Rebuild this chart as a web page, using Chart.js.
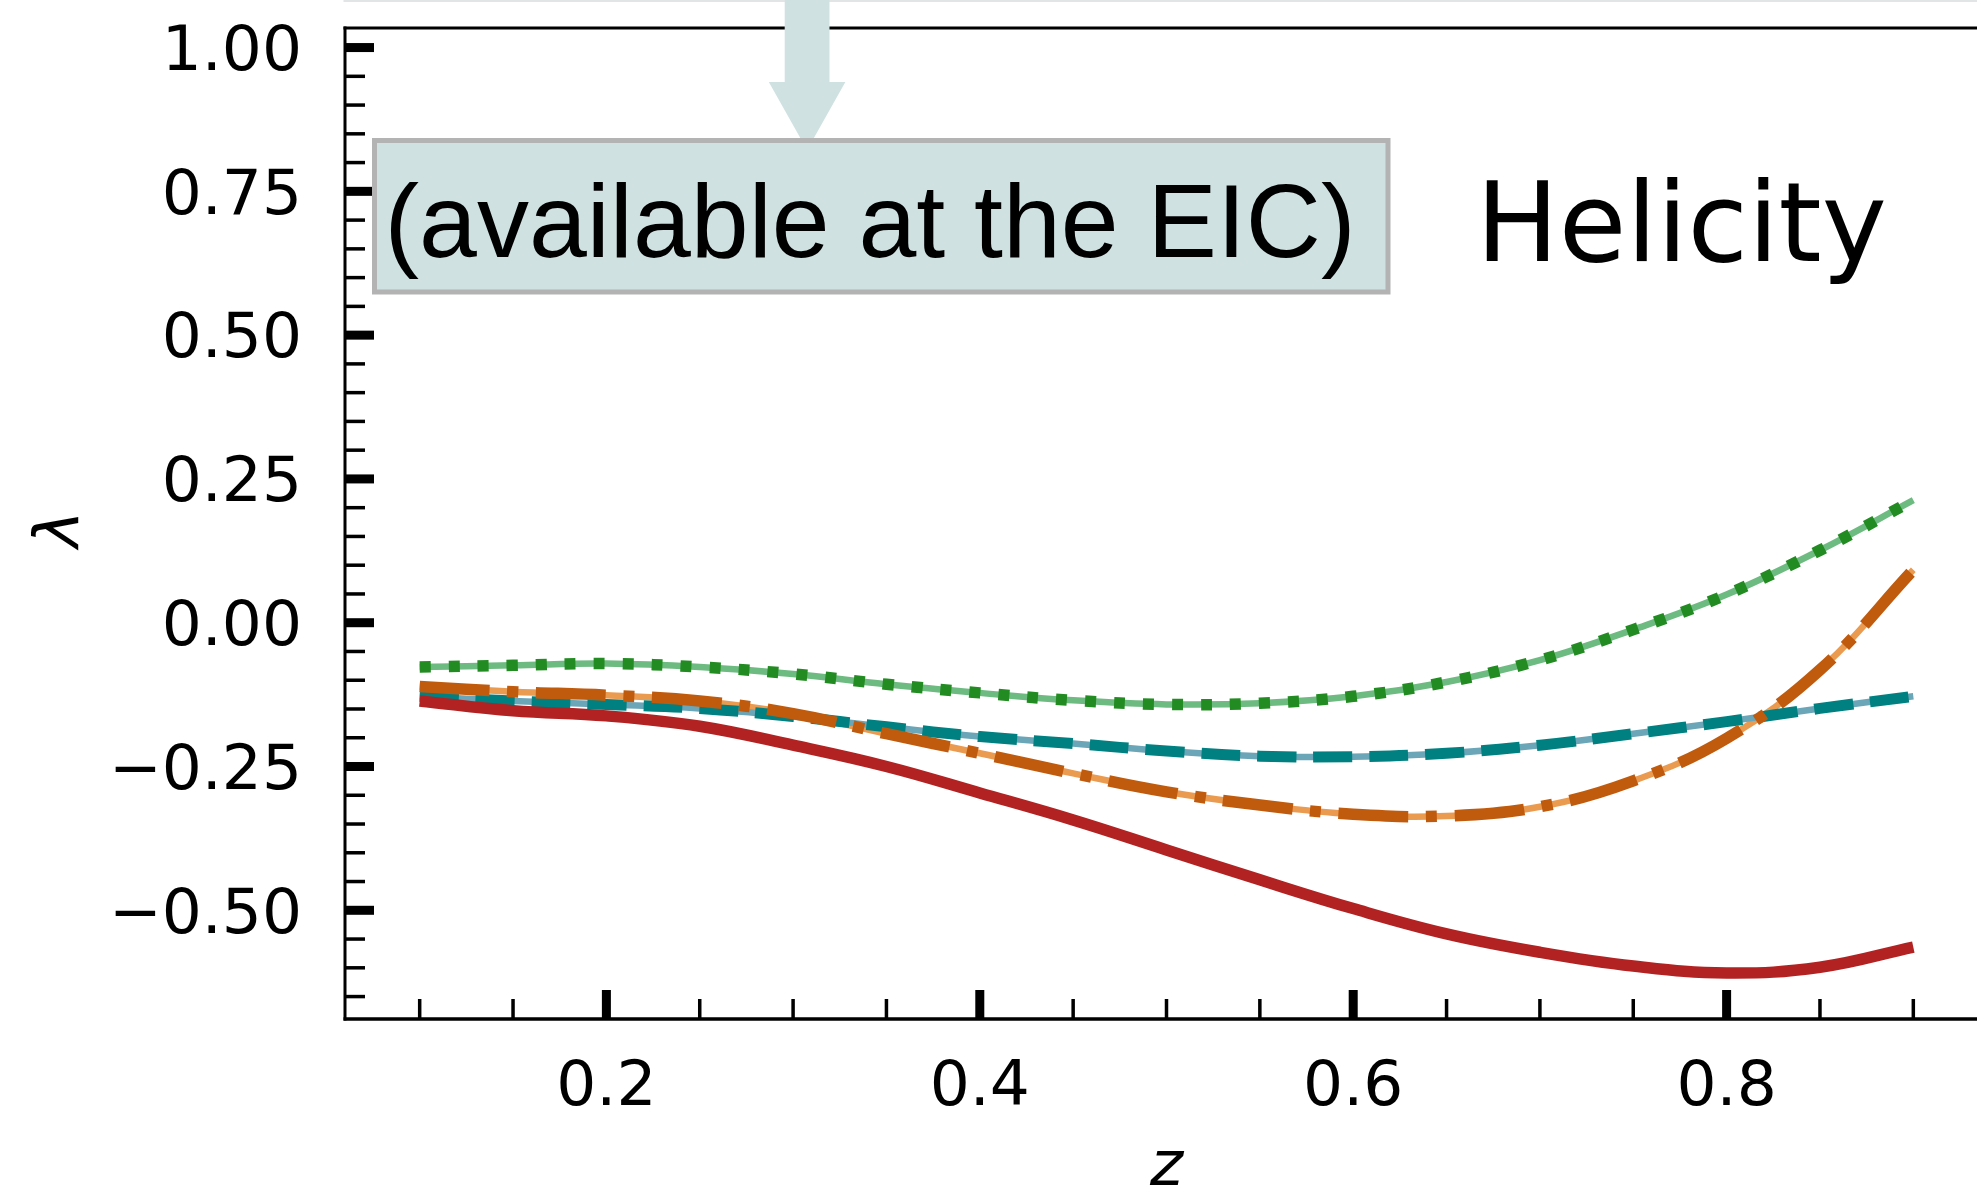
<!DOCTYPE html>
<html>
<head>
<meta charset="utf-8">
<title>Helicity</title>
<script src="https://cdn.jsdelivr.net/npm/chart.js@4.4.1/dist/chart.umd.min.js"></script>
<style>
  html, body { margin: 0; padding: 0; background: #fff; overflow: hidden; }
  #wrap { width: 2000px; height: 1188px; }
</style>
</head>
<body>
<div id="wrap"><canvas id="myChart" width="2000" height="1188"></canvas></div>
<script>
// z grid shared by every curve
const zValues = [0.10, 0.15, 0.20, 0.25, 0.30, 0.35, 0.40, 0.45, 0.50, 0.55, 0.60, 0.65, 0.70, 0.75, 0.80, 0.85, 0.90];

// lambda(z) for the four curves
const solidRed = [-0.136, -0.153, -0.162, -0.180, -0.213, -0.250, -0.296, -0.343, -0.395, -0.447, -0.497, -0.541, -0.573, -0.597, -0.609, -0.599, -0.564];
const dashedTeal = [-0.128, -0.136, -0.142, -0.149, -0.163, -0.181, -0.198, -0.210, -0.223, -0.232, -0.233, -0.227, -0.213, -0.193, -0.172, -0.149, -0.128];
const dashDotOrange = [-0.111, -0.120, -0.126, -0.136, -0.158, -0.193, -0.227, -0.262, -0.294, -0.317, -0.333, -0.336, -0.320, -0.275, -0.201, -0.082, 0.092];
const dottedGreen = [-0.077, -0.074, -0.071, -0.077, -0.089, -0.107, -0.122, -0.135, -0.142, -0.140, -0.128, -0.103, -0.065, -0.012, 0.049, 0.126, 0.213];

const xTicks = [0.2, 0.4, 0.6, 0.8];
const yTicks = [-0.50, -0.25, 0.00, 0.25, 0.50, 0.75, 1.00];

const xRange = [0.06, 0.94];
const yRange = [-0.689, 1.034];

function points(values) {
  return zValues.map(function(z, i) { return { x: z, y: values[i] }; });
}

function curve(values, color, width, dash, order) {
  return {
    data: points(values),
    borderColor: color,
    borderWidth: width,
    borderDash: dash,
    borderCapStyle: 'butt',
    pointRadius: 0,
    tension: 0.4,
    fill: false,
    order: order
  };
}

function minusSign(text) {
  return text.replace('-', '\u2212');
}

// spines plus inward major/minor ticks
const frame = {
  id: 'frame',
  afterDatasetsDraw(chart) {
    const ctx = chart.ctx;
    const a = chart.chartArea;
    const x = chart.scales.x;
    const y = chart.scales.y;
    ctx.save();
    ctx.fillStyle = '#000';

    for (let i = Math.ceil(yRange[0] / 0.05); i * 0.05 <= yRange[1] + 1e-9; i++) {
      const v = i * 0.05;
      const py = y.getPixelForValue(v);
      const major = Math.abs(v / 0.25 - Math.round(v / 0.25)) < 1e-6;
      const w = major ? 9 : 3.5;
      ctx.fillRect(a.left, py - w / 2, major ? 29 : 20, w);
    }
    for (let i = Math.ceil(xRange[0] / 0.05); i * 0.05 <= xRange[1] + 1e-9; i++) {
      const v = i * 0.05;
      const px = x.getPixelForValue(v);
      const major = Math.abs(v / 0.2 - Math.round(v / 0.2)) < 1e-6;
      const w = major ? 9 : 3.5;
      const len = major ? 29 : 20;
      ctx.fillRect(px - w / 2, a.bottom - len, w, len);
    }

    ctx.fillRect(a.left - 1.5, a.top - 1.5, 3, a.bottom - a.top + 3);
    ctx.fillRect(a.left - 1.5, a.bottom - 1.75, a.right - a.left + 3, 3.5);
    ctx.fillRect(a.left - 1.5, a.top - 1.5, a.right - a.left + 3, 3);
    ctx.fillRect(a.right - 1.5, a.top - 1.5, 3, a.bottom - a.top + 3);
    ctx.restore();
  },
  afterDraw(chart) {
    const ctx = chart.ctx;
    const a = chart.chartArea;
    const x = chart.scales.x;
    ctx.save();

    // thin rule along the very top
    ctx.fillStyle = '#e1e5e5';
    ctx.fillRect(a.left - 1.5, 0, chart.width, 2);

    // arrow pointing down onto the note
    const ax = x.getPixelForValue(0.3075);
    ctx.fillStyle = '#d0e1e1';
    ctx.fillRect(ax - 22.4, 0, 44.8, 82);
    ctx.beginPath();
    ctx.moveTo(ax - 38.3, 82);
    ctx.lineTo(ax + 38.3, 82);
    ctx.lineTo(ax, 150);
    ctx.closePath();
    ctx.fill();

    // note box
    ctx.fillStyle = '#d0e1e1';
    ctx.fillRect(374.5, 140.5, 1013.5, 151.5);
    ctx.strokeStyle = '#b3b3b3';
    ctx.lineWidth = 5;
    ctx.strokeRect(374.5, 140.5, 1013.5, 151.5);

    ctx.fillStyle = '#000';
    ctx.font = '104px "Liberation Sans"';
    ctx.textAlign = 'center';
    ctx.textBaseline = 'alphabetic';
    ctx.fillText('(available at the EIC)', 870, 256.7);

    ctx.font = '110px "DejaVu Sans"';
    ctx.textAlign = 'left';
    ctx.fillText('Helicity', 1476, 261);

    // axis titles
    ctx.font = 'italic 63px "DejaVu Sans"';
    ctx.textAlign = 'center';
    ctx.fillText('z', (a.left + a.right) / 2, 1184.5);

    ctx.translate(78, 529);
    ctx.rotate(-Math.PI / 2);
    ctx.fillText('\u03bb', 0, 0);
    ctx.restore();
  }
};

const tickFont = { family: 'DejaVu Sans', size: 63 };

// eslint-disable-next-line no-undef
const chart = new Chart(document.getElementById('myChart').getContext('2d'), {
  type: 'line',
  data: {
    datasets: [
      curve(dashedTeal, '#6aa6b8', 6.5, [], 10),
      curve(dashDotOrange, '#eb9b50', 6.5, [], 10),
      curve(dottedGreen, '#6dbb80', 6.5, [], 10),
      curve(dashedTeal, '#008080', 11, [39, 17], 4),
      curve(dashDotOrange, '#c05b0e', 11.5, [70, 17.6, 11, 17.6], 3),
      curve(dottedGreen, '#228b22', 11.5, [11, 18], 2),
      curve(solidRed, '#b22222', 11.5, [], 1)
    ]
  },
  options: {
    responsive: false,
    animation: false,
    layout: { padding: { left: 0, top: 28, right: 12, bottom: 0 } },
    plugins: { legend: { display: false }, tooltip: { enabled: false } },
    scales: {
      x: {
        type: 'linear',
        min: xRange[0],
        max: xRange[1],
        grid: { display: false, drawTicks: false },
        border: { display: false },
        afterBuildTicks: function(scale) {
          scale.ticks = xTicks.map(function(v) { return { value: v }; });
        },
        afterFit: function(scale) {
          scale.height = 169;
          scale.paddingLeft = 0;
          scale.paddingRight = 0;
        },
        ticks: {
          color: '#000',
          font: tickFont,
          padding: 32,
          maxRotation: 0,
          autoSkip: false,
          callback: function(value) { return value.toFixed(1); }
        }
      },
      y: {
        type: 'linear',
        min: yRange[0],
        max: yRange[1],
        grid: { display: false, drawTicks: false },
        border: { display: false },
        afterBuildTicks: function(scale) {
          scale.ticks = yTicks.map(function(v) { return { value: v }; });
        },
        afterFit: function(scale) {
          scale.width = 345;
          scale.paddingTop = 0;
          scale.paddingBottom = 0;
        },
        ticks: {
          color: '#000',
          font: tickFont,
          padding: 43,
          labelOffset: 6,
          autoSkip: false,
          callback: function(value) { return minusSign(value.toFixed(2)); }
        }
      }
    }
  },
  plugins: [frame]
});
</script>
</body>
</html>
